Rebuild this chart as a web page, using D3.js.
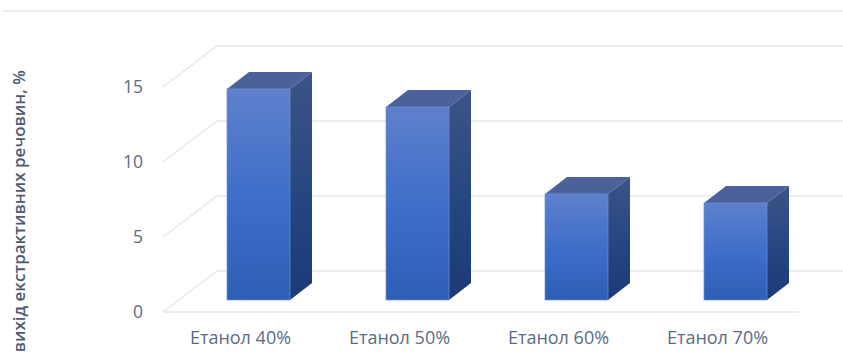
<!DOCTYPE html>
<html><head><meta charset="utf-8">
<script src="https://cdn.jsdelivr.net/npm/d3@7"></script>
<style>html,body{margin:0;padding:0;background:#fff;overflow:hidden}svg{display:block}</style>
</head><body><svg id="c" width="843" height="355"></svg>
<script>
const categories = ["Етанол 40%","Етанол 50%","Етанол 60%","Етанол 70%"];
const values = [14.07,12.87,7.07,6.47];
const yTicks = [0,5,10,15];
const yTitle = "вихід екстрактивних речовин, %";

const W=843,H=355;
const svg=d3.select("#c");
const x=d3.scaleBand().domain(categories).range([163,799]).paddingInner(0).paddingOuter(0);
const y=d3.scaleLinear().domain([0,15]).range([312,87]);
const wall={dx:54,dy:-41}, base={dx:16,dy:-12}, depth={dx:22,dy:-17};
const barW=63;
const textCol="#5c6b84", gridCol="#e3e6ee";
const font="'Open Sans', 'Noto Sans', sans-serif";

const defs=svg.append("defs");
function grad(id,stops){
  const g=defs.append("linearGradient").attr("id",id).attr("x1",0).attr("y1",0).attr("x2",0).attr("y2",1);
  stops.forEach(s=>g.append("stop").attr("offset",s[0]).attr("stop-color",s[1]));
}
grad("front",[[0,"#5f80cc"],[0.55,"#3b6dc9"],[1,"#2e5fb6"]]);
grad("side",[[0,"#3d5486"],[0.55,"#254680"],[1,"#1c3a76"]]);

// top rule
svg.append("line").attr("x1",3).attr("x2",W).attr("y1",11).attr("y2",11).attr("stroke",gridCol).attr("stroke-width",1.5);

// walls
yTicks.forEach(t=>{
  const py=y(t), x0=x.range()[0];
  const p=d3.path();
  p.moveTo(x0,py); p.lineTo(x0+wall.dx,py+wall.dy); p.lineTo(W+2,py+wall.dy);
  svg.append("path").attr("d",p.toString()).attr("fill","none").attr("stroke",gridCol).attr("stroke-width",1.3);
});
svg.append("line").attr("x1",x.range()[0]).attr("x2",x.range()[1]).attr("y1",y(0)).attr("y2",y(0)).attr("stroke",gridCol).attr("stroke-width",1.5);

// bars
const g=svg.selectAll("g.bar").data(categories.map((c,i)=>({c,v:values[i]}))).join("g").attr("class","bar");
const xl=d=>x(d.c)+x.bandwidth()/2+base.dx-barW/2;
const yt=d=>y(d.v)+base.dy, yb=()=>y(0)+base.dy;
g.append("path").attr("fill","url(#side)").attr("d",d=>{
  const a=xl(d)+barW;
  return `M${a},${yt(d)}L${a+depth.dx},${yt(d)+depth.dy}L${a+depth.dx},${yb()+depth.dy}L${a},${yb()}Z`;
});
g.append("path").attr("fill","#4a6199").attr("d",d=>{
  const a=xl(d),t=yt(d);
  return `M${a},${t}L${a+depth.dx},${t+depth.dy}L${a+barW+depth.dx},${t+depth.dy}L${a+barW},${t}Z`;
});
g.append("rect").attr("x",xl).attr("y",yt).attr("width",barW).attr("height",d=>yb()-yt(d))
  .attr("fill","url(#front)").attr("stroke","#6f8fd6").attr("stroke-width",0.7);

// y tick labels
svg.selectAll("text.yt").data(yTicks).join("text").attr("class","yt")
  .attr("x",143).attr("y",d=>y(d)+1).attr("text-anchor","end").attr("dominant-baseline","middle")
  .attr("fill",textCol).attr("font-family",font).attr("font-size",17.5).text(d=>d);
// x labels
svg.selectAll("text.xt").data(categories).join("text").attr("class","xt")
  .attr("x",d=>x(d)+x.bandwidth()/2-2).attr("y",344).attr("text-anchor","middle")
  .attr("fill",textCol).attr("font-family",font).attr("font-size",18).text(d=>d);
// y title
svg.append("text").attr("transform","translate(25,70) rotate(-90)").attr("text-anchor","end")
  .attr("fill","#4a5a72").attr("font-family",font).attr("font-size",17).attr("font-weight",600).text(yTitle);
</script></body></html>
